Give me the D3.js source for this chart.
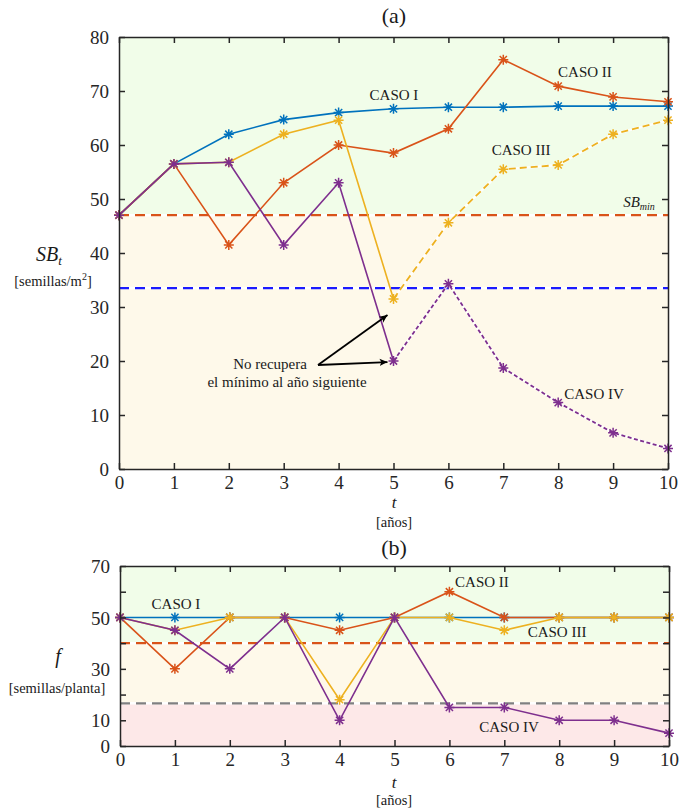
<!DOCTYPE html>
<html>
<head>
<meta charset="utf-8">
<script src="https://cdn.jsdelivr.net/npm/d3@7"></script>
<style>
  body { margin: 0; background: #fff; }
  svg { display: block; font-family: "Liberation Serif", "DejaVu Serif", serif; }
  .axis path, .axis line { stroke: #262626; stroke-width: 1.5; }
  .axis text { font-size: 19px; fill: #262626; font-family: "Liberation Serif", serif; }
</style>
</head>
<body>
<svg id="chart" width="692" height="808"></svg>
<script>
// --- data ---
const years = [0, 1, 2, 3, 4, 5, 6, 7, 8, 9, 10];

// (a) seed bank SB_t [semillas/m2]
const sbCaso1 = [47, 56.5, 62, 64.7, 66, 66.7, 67, 67, 67.2, 67.2, 67.2];
const sbCaso2 = [47, 56.5, 41.5, 53, 60, 58.5, 63, 75.8, 70.9, 68.9, 68];
const sbCaso3 = [47, 56.5, 56.8, 62, 64.6, 31.5, 45.6, 55.5, 56.3, 62, 64.6];
const sbCaso4 = [47, 56.5, 56.8, 41.5, 53, 20, 34.3, 18.7, 12.3, 6.7, 3.8];
const sbMin = 47;
const sbLow = 33.5;
const sbTicks = [0, 10, 20, 30, 40, 50, 60, 70, 80];

// (b) fecundity f [semillas/planta]
const fCaso1 = [50, 50, 50, 50, 50, 50, 50, 50, 50, 50, 50];
const fCaso2 = [50, 30, 50, 50, 45, 50, 60, 50, 50, 50, 50];
const fCaso3 = [50, 45, 50, 50, 18, 50, 50, 45, 50, 50, 50];
const fCaso4 = [50, 45, 30, 50, 10, 50, 15, 15, 10, 10, 5];
const fMin = 40;
const fLow = 16.6;
const fTicks = [0, 10, 20, 30, 40, 50, 60, 70];
const fTickLabels = [0, 10, 30, 50, 70];

const colors = {
  c1: "#0072BD",
  c2: "#D95319",
  c3: "#EDB120",
  c4: "#7E2F8E"
};

const svg = d3.select("#chart");

// arrow marker for annotation
svg.append("defs").append("marker")
  .attr("id", "arrow")
  .attr("viewBox", "0 -5 10 10")
  .attr("refX", 10)
  .attr("markerWidth", 8)
  .attr("markerHeight", 8)
  .attr("markerUnits", "userSpaceOnUse")
  .attr("orient", "auto")
  .append("path")
  .attr("d", "M0,-4.5L10,0L0,4.5L2.5,0Z")
  .attr("fill", "#000");

function star(r) {
  const d = r * 0.72;
  return `M${-r},0L${r},0M0,${-r}L0,${r}M${-d},${-d}L${d},${d}M${-d},${d}L${d},${-d}`;
}

function drawPanel(opt) {
  const x = d3.scaleLinear().domain([0, 10]).range([opt.left, opt.right]);
  const y = d3.scaleLinear().domain(opt.yDomain).range([opt.bottom, opt.top]);
  const g = svg.append("g");

  // background bands
  opt.bands.forEach(b => {
    g.append("rect")
      .attr("x", x(0))
      .attr("width", x(10) - x(0))
      .attr("y", y(b.to))
      .attr("height", y(b.from) - y(b.to))
      .attr("fill", b.color);
  });

  // threshold lines
  opt.thresholds.forEach(t => {
    g.append("line")
      .attr("x1", x(0)).attr("x2", x(10))
      .attr("y1", y(t.value)).attr("y2", y(t.value))
      .attr("stroke", "#fff")
      .attr("stroke-width", 2.5);
    g.append("line")
      .attr("x1", x(0)).attr("x2", x(10))
      .attr("y1", y(t.value)).attr("y2", y(t.value))
      .attr("stroke", t.color)
      .attr("stroke-width", 2.2)
      .attr("stroke-dasharray", "10,6");
  });

  const line = d3.line().x(d => x(d.t)).y(d => y(d.v));

  opt.series.forEach(s => {
    const pts = years.map((t, i) => ({ t: t, v: s.values[i] }));
    const solid = s.solidUntil == null ? pts : pts.filter(p => p.t <= s.solidUntil);
    g.append("path")
      .datum(solid)
      .attr("d", line)
      .attr("fill", "none")
      .attr("stroke", s.color)
      .attr("stroke-width", 1.6);
    if (s.solidUntil != null) {
      const rest = pts.filter(p => p.t >= s.solidUntil);
      g.append("path")
        .datum(rest)
        .attr("d", line)
        .attr("fill", "none")
        .attr("stroke", "#fff")
        .attr("stroke-opacity", 0.8)
        .attr("stroke-width", 2.6);
      g.append("path")
        .datum(rest)
        .attr("d", line)
        .attr("fill", "none")
        .attr("stroke", s.color)
        .attr("stroke-width", 1.8)
        .attr("stroke-dasharray", s.dash);
    }
    g.selectAll(null)
      .data(pts)
      .enter().append("path")
      .attr("transform", d => `translate(${x(d.t)},${y(d.v)})`)
      .attr("d", star(5))
      .attr("fill", "none")
      .attr("stroke", s.color)
      .attr("stroke-width", 1.5);
  });

  // axes box with inward ticks
  const tickLabel = v => (opt.tickLabels.includes(v) ? v : "");
  g.append("g").attr("class", "axis xb")
    .attr("transform", `translate(0,${opt.bottom})`)
    .call(d3.axisBottom(x).tickValues(years).tickSizeInner(-6).tickSizeOuter(0).tickPadding(12).tickFormat(d3.format("d")));
  g.append("g").attr("class", "axis")
    .attr("transform", `translate(0,${opt.top})`)
    .call(d3.axisTop(x).tickValues(years).tickSizeInner(-6).tickSizeOuter(0).tickFormat(""));
  g.append("g").attr("class", "axis yl")
    .attr("transform", `translate(${opt.left},0)`)
    .call(d3.axisLeft(y).tickValues(opt.yTicks).tickSizeInner(-6).tickSizeOuter(0).tickPadding(10).tickFormat(tickLabel));
  g.append("g").attr("class", "axis")
    .attr("transform", `translate(${opt.right},0)`)
    .call(d3.axisRight(y).tickValues(opt.yTicks).tickSizeInner(-6).tickSizeOuter(0).tickFormat(""));

  g.selectAll(".xb .tick text").attr("y", 20).attr("dy", null);
  g.selectAll(".yl .tick text").attr("dy", "0.35em");

  return { x: x, y: y, g: g };
}

// ----- panel (a) -----
const a = drawPanel({
  left: 119, right: 668, top: 37, bottom: 469,
  yDomain: [0, 80], yTicks: sbTicks, tickLabels: sbTicks,
  bands: [
    { from: sbMin, to: 80, color: "#f1fde9" },
    { from: 0, to: sbMin, color: "#fef9ea" }
  ],
  thresholds: [
    { value: sbMin, color: "#D95319" },
    { value: sbLow, color: "#1a1aff" }
  ],
  series: [
    { values: sbCaso1, color: colors.c1 },
    { values: sbCaso2, color: colors.c2 },
    { values: sbCaso3, color: colors.c3, solidUntil: 5, dash: "7,4" },
    { values: sbCaso4, color: colors.c4, solidUntil: 5, dash: "4,2.5" }
  ]
});

// ----- panel (b) -----
const b = drawPanel({
  left: 120, right: 669, top: 566, bottom: 746,
  yDomain: [0, 70], yTicks: fTicks, tickLabels: fTickLabels,
  bands: [
    { from: fMin, to: 70, color: "#f1fde9" },
    { from: fLow, to: fMin, color: "#fef9ea" },
    { from: 0, to: fLow, color: "#fde8e8" }
  ],
  thresholds: [
    { value: fMin, color: "#D95319" },
    { value: fLow, color: "#808080" }
  ],
  series: [
    { values: fCaso1, color: colors.c1 },
    { values: fCaso2, color: colors.c2 },
    { values: fCaso3, color: colors.c3 },
    { values: fCaso4, color: colors.c4 }
  ]
});

// ----- texts -----
function txt(x, y, s, size, anchor, extra) {
  const t = svg.append("text")
    .attr("x", x).attr("y", y)
    .attr("font-size", size)
    .attr("text-anchor", anchor || "middle")
    .attr("fill", "#1a1a1a");
  if (extra) extra(t);
  if (s != null) t.text(s);
  return t;
}

// titles
txt(394, 23, "(a)", 22);
txt(394, 555, "(b)", 22);

// panel (a) labels
txt(49, 261, null, 20, "middle", t => {
  t.append("tspan").attr("font-style", "italic").text("SB");
  t.append("tspan").attr("font-style", "italic").attr("font-size", 13).attr("dy", 4).text("t");
});
txt(53, 286, null, 14.5, "middle", t => {
  t.append("tspan").text("[semillas/m");
  t.append("tspan").attr("font-size", 10).attr("dy", -6).text("2");
  t.append("tspan").attr("dy", 6).text("]");
});
txt(394, 508, "t", 17, "middle", t => t.attr("font-style", "italic"));
txt(394, 527, "[años]", 14.5);

txt(394, 100, "CASO I", 15);
txt(585, 77, "CASO II", 15);
txt(521, 155, "CASO III", 15);
txt(594, 399, "CASO IV", 15);
txt(639, 207, null, 15, "middle", t => {
  t.append("tspan").attr("font-style", "italic").text("SB");
  t.append("tspan").attr("font-style", "italic").attr("font-size", 10).attr("dy", 3).text("min");
});

// annotation
txt(270, 369, "No recupera", 15);
txt(287, 387, "el mínimo al año siguiente", 15);
const ax0 = { x: 318, y: 365 };
[{ t: 5, v: 28.5 }, { t: 5, v: 19.8 }].forEach(p => {
  svg.append("line")
    .attr("x1", ax0.x).attr("y1", ax0.y)
    .attr("x2", a.x(p.t) - 6).attr("y2", a.y(p.v))
    .attr("stroke", "#000")
    .attr("stroke-width", 1.8)
    .attr("marker-end", "url(#arrow)");
});

// panel (b) labels
txt(58, 663, "f", 20, "middle", t => t.attr("font-style", "italic"));
txt(57, 693, "[semillas/planta]", 14.5);
txt(394, 788, "t", 17, "middle", t => t.attr("font-style", "italic"));
txt(394, 805, "[años]", 14.5);

txt(176, 609, "CASO I", 15);
txt(482, 587, "CASO II", 15);
txt(557, 637, "CASO III", 15);
txt(509, 732, "CASO IV", 15);
</script>
</body>
</html>
